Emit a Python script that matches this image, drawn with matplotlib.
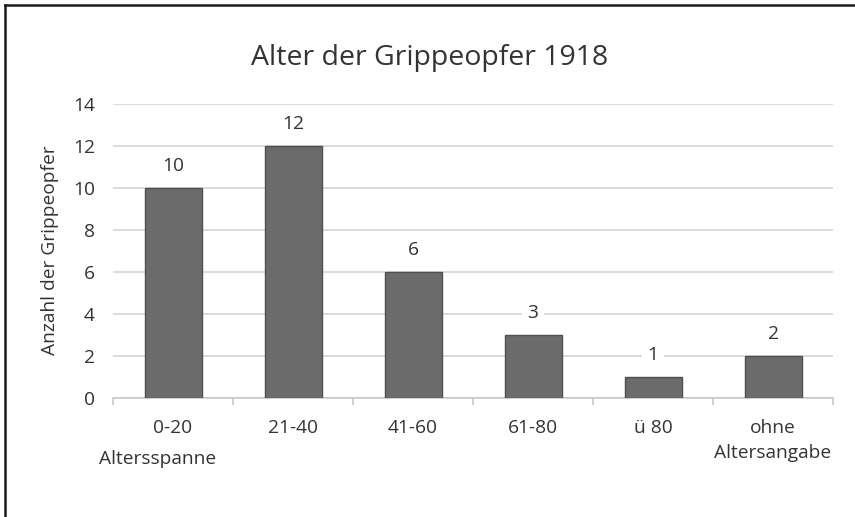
import matplotlib
matplotlib.use("Agg")
import matplotlib.pyplot as plt
from matplotlib.lines import Line2D
import numpy as np

categories = ["0-20", "21-40", "41-60", "61-80", "ü 80", "ohne\nAltersangabe"]
values = [10, 12, 6, 3, 1, 2]
yticks = [0, 2, 4, 6, 8, 10, 12, 14]
title = "Alter der Grippeopfer 1918"
ylabel = "Anzahl der Grippeopfer"
xlabel = "Altersspanne"

plt.rcParams['font.family'] = ['Open Sans', 'DejaVu Sans']
W, H = 855, 517
fig = plt.figure(figsize=(W/100, H/100), dpi=100)
fig.patch.set_facecolor("white")

ax = fig.add_axes([113/W, (H-398)/H, (833-113)/W, (398-104)/H])
x = np.arange(len(categories))
txtc = "#333333"
fs = 13.8
ax.bar(x, values, width=0.475, color="#6b6b6b", edgecolor="#505050", linewidth=1.0, zorder=3)
ax.set_xlim(-0.5, len(categories) - 0.5)
ax.set_ylim(0, 14)
ax.set_yticks(yticks)
ax.set_yticklabels([str(t) for t in yticks], fontsize=fs, color=txtc)
ax.yaxis.grid(True, color="#d4d4d4", linewidth=1.2, zorder=0)
ax.set_axisbelow(True)
ax.tick_params(axis="y", length=0, pad=13)
ax.set_xticks(x)
ax.set_xticklabels(categories, fontsize=fs, color=txtc, linespacing=1.5)
ax.tick_params(axis="x", length=0, pad=15)
ax.set_xticks(np.arange(len(categories) + 1) - 0.5, minor=True)
ax.tick_params(axis="x", which="minor", length=5, color="#c8c8c8", width=1.2)
for s in ["top", "right", "left"]:
    ax.spines[s].set_visible(False)
ax.spines["bottom"].set_color("#c8c8c8")
ax.spines["bottom"].set_linewidth(1.2)

for xi, v in zip(x, values):
    ax.annotate(str(v), (xi, v), xytext=(0, 15.5), textcoords="offset points",
                ha="center", va="center", fontsize=fs, color=txtc,
                bbox=dict(boxstyle="square,pad=0.3", fc="white", ec="none"), zorder=4)

fig.text(430/W, 1 - 58/H, title, ha="center", va="center", fontsize=20.5, color=txtc)
fig.text(50/W, 1 - 250/H, ylabel, ha="center", va="center", rotation=90, fontsize=fs, color=txtc)
fig.text(158/W, 1 - 459/H, xlabel, ha="center", va="center", fontsize=fs, color=txtc)

fig.add_artist(Line2D([5/W, 5/W], [0, 1 - 5/H], transform=fig.transFigure, color="#1a1a1a", linewidth=1.8))
fig.add_artist(Line2D([5/W, 1], [1 - 5/H, 1 - 5/H], transform=fig.transFigure, color="#1a1a1a", linewidth=1.8))

fig.savefig("out.png", dpi=100, facecolor="white")
